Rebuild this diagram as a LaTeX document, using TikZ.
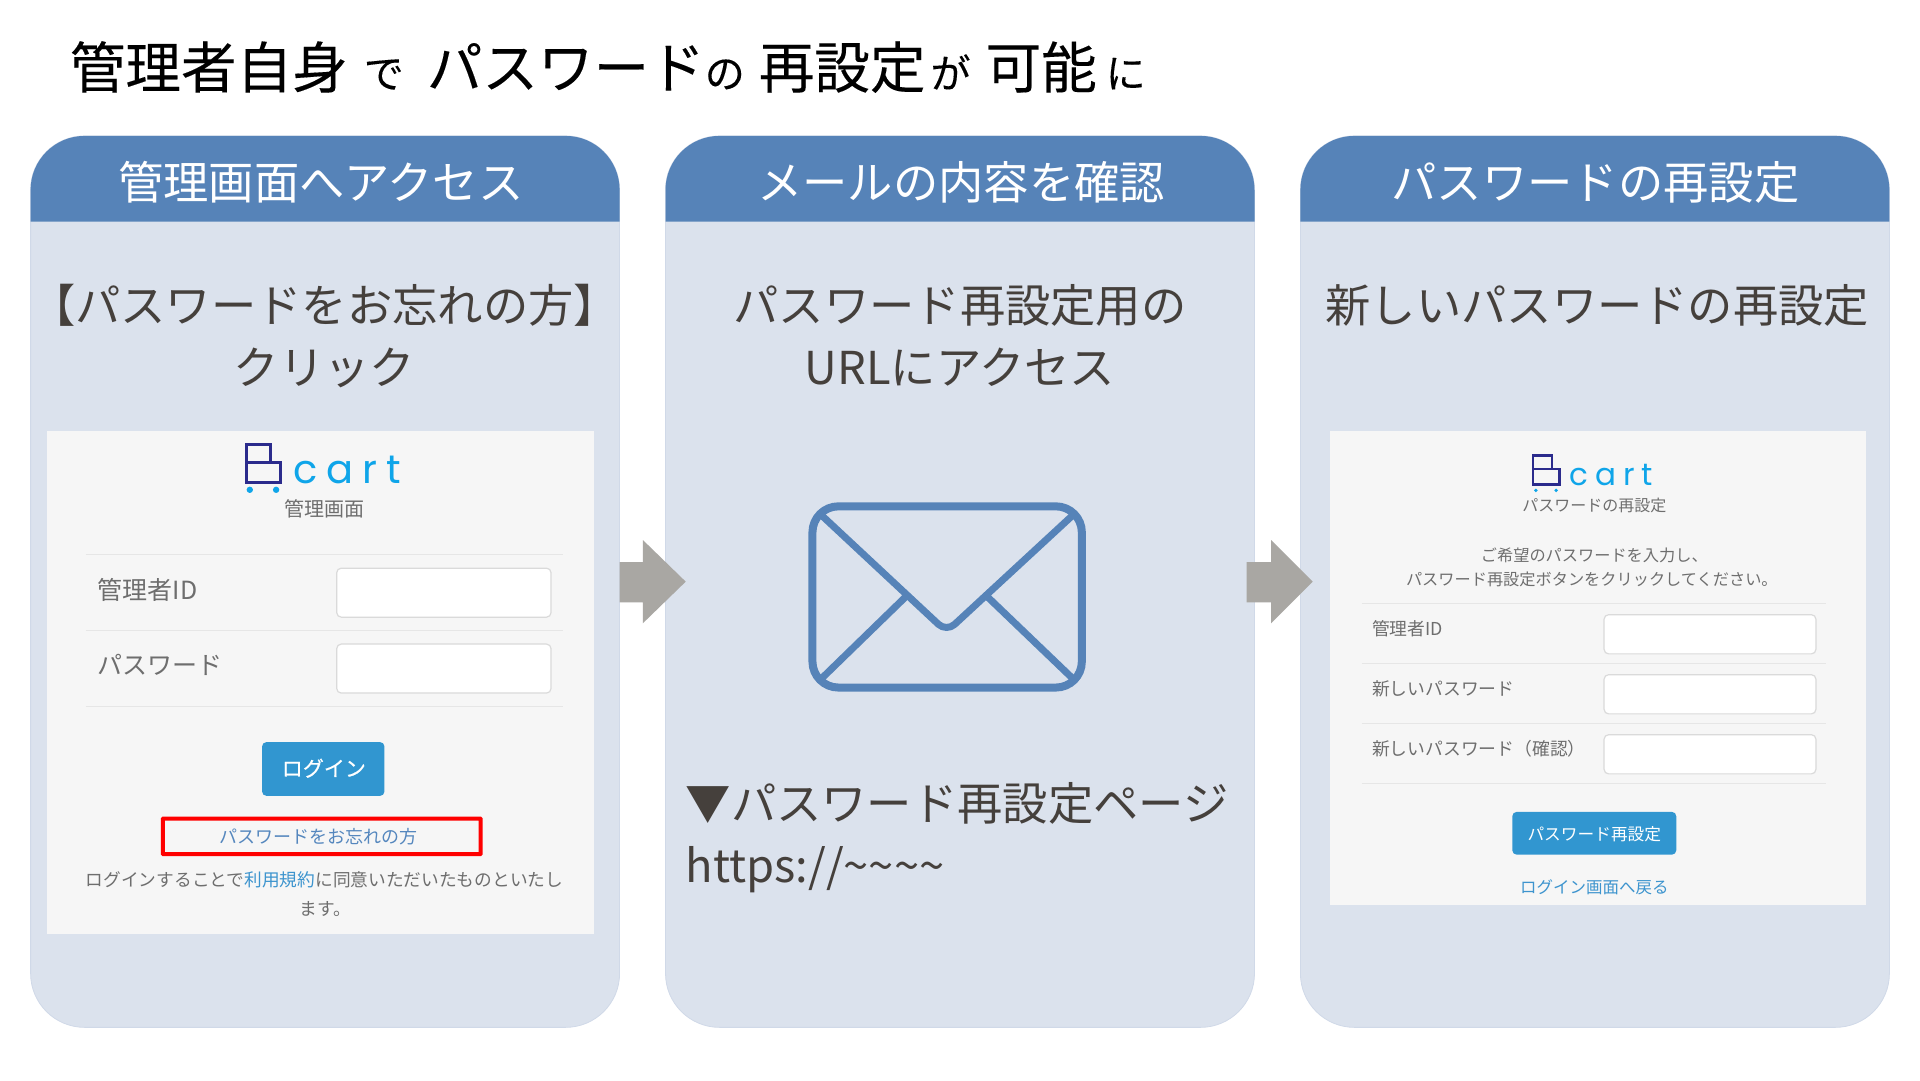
\documentclass[tikz,border=0pt]{standalone}
\usepackage{fontspec}
\setmainfont{Noto Sans CJK JP}
\newfontfamily\logofont[LetterSpace=22]{Poppins}
\newfontfamily\medfont[FakeBold=0.6]{Noto Sans CJK JP}
\newfontfamily\ttlfont[FakeBold=0.2]{Noto Sans CJK JP}
\definecolor{hdr}{HTML}{5683B8}
\definecolor{cardbg}{HTML}{DBE2ED}
\definecolor{cardedge}{HTML}{D0D9E8}
\definecolor{ink}{HTML}{45403C}
\definecolor{arrowgrey}{HTML}{A9A7A3}
\definecolor{panelbg}{HTML}{F6F6F6}
\definecolor{formline}{HTML}{E6E6E6}
\definecolor{fieldline}{HTML}{DADADA}
\definecolor{formtxt}{HTML}{6E6E6E}
\definecolor{btn}{HTML}{3196D0}
\definecolor{linkblue}{HTML}{3D94CE}
\definecolor{forgot}{HTML}{5587BE}
\definecolor{logodark}{HTML}{2B2B8C}
\definecolor{logolight}{HTML}{0FA5E9}
\newcommand{\fs}[1]{\fontsize{#1}{#1}\selectfont}
\tikzset{
  txt/.style={inner sep=0pt,outer sep=0pt,anchor=base},
  txtl/.style={inner sep=0pt,outer sep=0pt,anchor=base west},
  card/.style={fill=cardbg,draw=cardedge,line width=0.8pt,rounded corners=54pt},
  headtxt/.style={txt,text=white,font=\fs{45.3}},
  bodytxt/.style={txt,text=ink,font=\fs{45.3}},
  bodytxtl/.style={txtl,text=ink,font=\fs{45.3}},
  panel/.style={fill=panelbg},
  rule/.style={draw=formline,line width=1.3pt},
  field/.style={fill=white,draw=fieldline,line width=1.2pt,rounded corners=4.5pt},
  btnbox/.style={fill=btn,rounded corners=4.5pt},
  blockarrow/.style={fill=arrowgrey},
}
\newcommand{\headshape}[2]{\fill[hdr] (#1,181) [rounded corners=54pt] -- (#1,111) -- (#2,111) [sharp corners] -- (#2,181) -- cycle;}
% #1 x, #2 y, #3 scale, #4 line width, #5 font size, #6 name
\newcommand{\bclogo}[6]{%
  \begin{scope}[shift={(#1,#2)},scale=#3]
    \draw[logodark,line width=#4,line join=miter] (0,14.5) -- (0,0) -- (20,0) -- (20,14.5);
    \draw[logodark,line width=#4,line join=miter] (0,14.5) rectangle (28,31);
    \fill[logolight] (3,37) circle[radius=#3*2.6];
    \fill[logolight] (24.5,37) circle[radius=#3*2.6];
  \end{scope}
  \node[txtl,text=logolight,font=\logofont\fs{#5}] (#6) at (#1+39*#3,#2+31.5*#3) {cart};
}
\begin{document}
\begin{tikzpicture}[x=1.2245pt,y=-1.2245pt]
\useasboundingbox (0,0) rectangle (1568,882);
\fill[white] (0,0) rectangle (1568,882);

% title
\node[txtl,text=black,font=\ttlfont\fs{55.6}] (title) at (57,72) {管理者自身\hspace{16pt}{\fs{40}で}\hspace{23pt}パスワード{\fs{40}の}\hspace{14pt}再設定\hspace{5pt}{\fs{40}が}\hspace{15pt}可能\hspace{9pt}{\fs{40}に}};

% cards
\draw[card] (25,111) rectangle (506,839);
\draw[card] (543.5,111) rectangle (1024.5,839);
\draw[card] (1062,111) rectangle (1543,839);
\headshape{25}{506}
\headshape{543.5}{1024.5}
\headshape{1062}{1543}
\node[headtxt] (h1) at (262,163) {管理画面へアクセス};
\node[headtxt] (h2) at (785,163) {メールの内容を確認};
\node[headtxt] (h3) at (1303,163) {パスワードの再設定};

% block arrows
\fill[blockarrow] (506,459) -- (525,459) -- (525,441) -- (560,475) -- (525,509) -- (525,492) -- (506,492) -- cycle;
\fill[blockarrow] (1018,459) -- (1038,459) -- (1038,441) -- (1072,475) -- (1038,509) -- (1038,492) -- (1018,492) -- cycle;

% card 1
\node[bodytxt] (c1a) at (265,263.5) {【パスワードをお忘れの方】};
\node[bodytxt] (c1b) at (265,314) {クリック};
\fill[panel] (38,352) rectangle (485,763);
\bclogo{201}{363}{1}{3pt}{40}{logoa}
\node[txt,text=formtxt,font=\fs{20}] (t1) at (265,422) {管理画面};
\draw[rule] (70,453) -- (460,453);
\draw[rule] (70,515) -- (460,515);
\draw[rule] (70,577) -- (460,577);
\draw[field] (275,464) rectangle (450,504);
\draw[field] (275,526) rectangle (450,566);
\node[txtl,text=formtxt,font=\fs{25}] (l1) at (80,489.5) {管理者ID};
\node[txtl,text=formtxt,font=\fs{25}] (l2) at (80,551) {パスワード};
\fill[btnbox] (214,606) rectangle (314,650);
\node[txt,text=white,font=\medfont\fs{21}] (b1) at (264.5,634) {ログイン};
\draw[red,line width=4pt,rounded corners=0.5pt] (133,668.5) rectangle (392.5,697.5);
\node[txt,text=forgot,font=\fs{18}] (f1) at (260,688.5) {パスワードをお忘れの方};
\node[txt,text=formtxt,font=\fs{17.7}] (n1) at (265,724) {ログインすることで\textcolor{linkblue}{利用規約}に同意いただいたものといたし};
\node[txt,text=formtxt,font=\fs{17.7}] (n2) at (265.5,748) {ます。};

% card 2
\node[bodytxt] (c2a) at (784,263.5) {パスワード再設定用の};
\node[bodytxt] (c2b) at (784,314) {URLにアクセス};
\draw[hdr,line width=8pt,rounded corners=26pt] (663.5,413.5) rectangle (883.5,561.5);
\draw[hdr,line width=7pt,line join=round,rounded corners=11pt] (669,419) -- (773,516) -- (878,419);
\draw[hdr,line width=7pt] (740,487) -- (669,556);
\draw[hdr,line width=7pt] (806,487) -- (878,556);
\node[bodytxtl] (c2c) at (560,670) {▼パスワード再設定ページ};
\node[bodytxtl] (c2d) at (560,721) {https://\textasciitilde\textasciitilde\textasciitilde\textasciitilde};

% card 3
\node[bodytxt] (c3a) at (1304.5,263.5) {新しいパスワードの再設定};
\fill[panel] (1086,352) rectangle (1524,739);
\bclogo{1252}{372}{0.77}{2.5pt}{31}{logob}
\node[txt,text=formtxt,font=\fs{16}] (t3) at (1302,418) {パスワードの再設定};
\node[txt,text=formtxt,font=\fs{16.2}] (m1) at (1302,458.5) {ご希望のパスワードを入力し、};
\node[txt,text=formtxt,font=\fs{16.2}] (m2) at (1300,478) {パスワード再設定ボタンをクリックしてください。};
\draw[rule] (1112,493) -- (1491,493);
\draw[rule] (1112,542) -- (1491,542);
\draw[rule] (1112,591) -- (1491,591);
\draw[rule] (1112,640) -- (1491,640);
\draw[field] (1310,502) rectangle (1483,534);
\draw[field] (1310,551) rectangle (1483,583);
\draw[field] (1310,600) rectangle (1483,632);
\node[txtl,text=formtxt,font=\fs{17.8}] (l3) at (1120.5,519) {管理者ID};
\node[txtl,text=formtxt,font=\fs{17.8}] (l4) at (1120.5,568) {新しいパスワード};
\node[txtl,text=formtxt,font=\fs{17.8}] (l5) at (1120.5,617) {新しいパスワード（確認）};
\fill[btnbox] (1235,663) rectangle (1369,698);
\node[txt,text=white,font=\fs{16.7}] (b3) at (1302,686.5) {パスワード再設定};
\node[txt,text=linkblue,font=\fs{16.5}] (r3) at (1302,729.5) {ログイン画面へ戻る};
\end{tikzpicture}
\end{document}
